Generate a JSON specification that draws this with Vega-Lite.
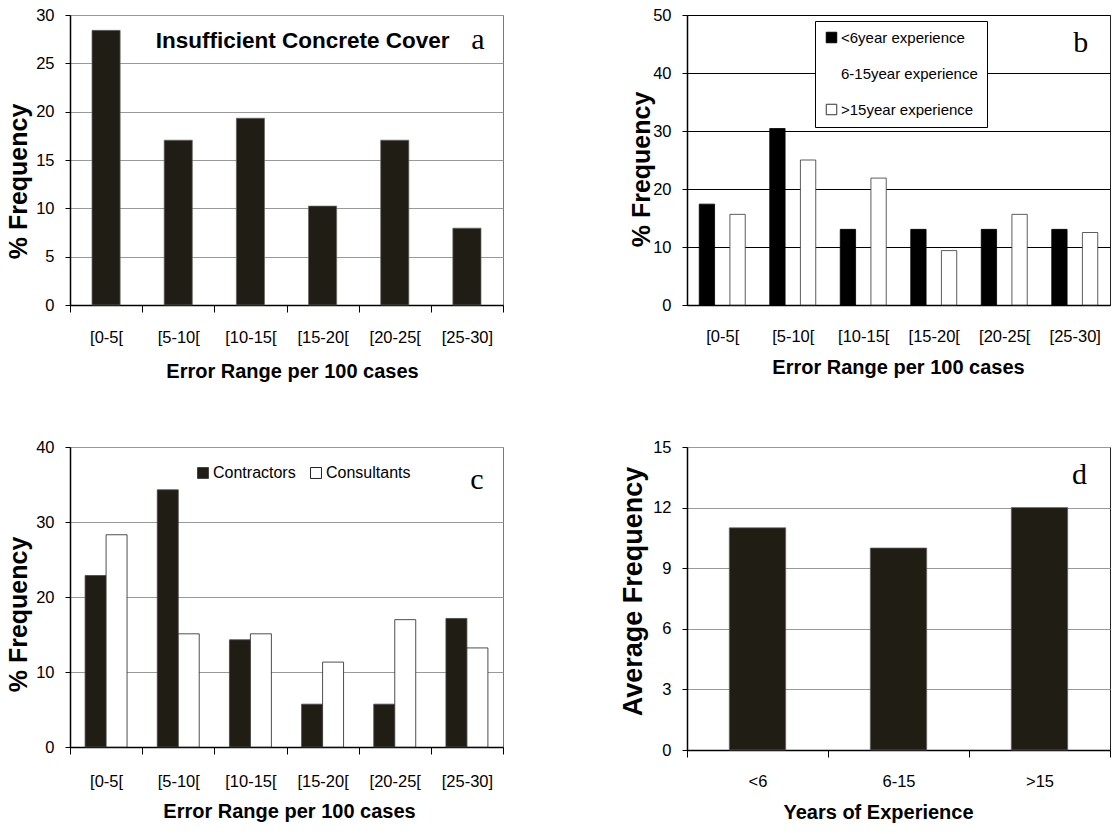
{
  "$schema": "https://vega.github.io/schema/vega-lite/v6.json",
  "padding": {"left": 5, "top": 6, "right": 0, "bottom": 0},
  "background": "white",
  "datasets": {
    "a": [
      {"range": "[0-5[", "pct": 28.41},
      {"range": "[5-10[", "pct": 17.05},
      {"range": "[10-15[", "pct": 19.32},
      {"range": "[15-20[", "pct": 10.23},
      {"range": "[20-25[", "pct": 17.05},
      {"range": "[25-30]", "pct": 7.95}
    ],
    "b": [
      {"range": "[0-5[", "exp": "<6year experience", "pct": 17.39},
      {"range": "[5-10[", "exp": "<6year experience", "pct": 30.43},
      {"range": "[10-15[", "exp": "<6year experience", "pct": 13.04},
      {"range": "[15-20[", "exp": "<6year experience", "pct": 13.04},
      {"range": "[20-25[", "exp": "<6year experience", "pct": 13.04},
      {"range": "[25-30]", "exp": "<6year experience", "pct": 13.04},
      {"range": "[0-5[", "exp": ">15year experience", "pct": 15.63},
      {"range": "[5-10[", "exp": ">15year experience", "pct": 25.0},
      {"range": "[10-15[", "exp": ">15year experience", "pct": 21.88},
      {"range": "[15-20[", "exp": ">15year experience", "pct": 9.38},
      {"range": "[20-25[", "exp": ">15year experience", "pct": 15.63},
      {"range": "[25-30]", "exp": ">15year experience", "pct": 12.5}
    ],
    "c": [
      {"range": "[0-5[", "who": "Contractors", "pct": 22.86},
      {"range": "[5-10[", "who": "Contractors", "pct": 34.29},
      {"range": "[10-15[", "who": "Contractors", "pct": 14.29},
      {"range": "[15-20[", "who": "Contractors", "pct": 5.71},
      {"range": "[20-25[", "who": "Contractors", "pct": 5.71},
      {"range": "[25-30]", "who": "Contractors", "pct": 17.14},
      {"range": "[0-5[", "who": "Consultants", "pct": 28.30},
      {"range": "[5-10[", "who": "Consultants", "pct": 15.09},
      {"range": "[10-15[", "who": "Consultants", "pct": 15.09},
      {"range": "[15-20[", "who": "Consultants", "pct": 11.32},
      {"range": "[20-25[", "who": "Consultants", "pct": 16.98},
      {"range": "[25-30]", "who": "Consultants", "pct": 13.21}
    ],
    "d": [
      {"yrs": "<6", "avg": 11},
      {"yrs": "6-15", "avg": 10},
      {"yrs": ">15", "avg": 12}
    ]
  },
  "columns": 2,
  "spacing": {"row": 142, "column": 184},
  "bounds": "flush",
  "align": "each",
  "resolve": {
    "scale": {"x": "independent", "y": "independent", "xOffset": "independent", "color": "independent", "stroke": "independent"},
    "axis": {"x": "independent", "y": "independent"},
    "legend": {"color": "independent", "stroke": "independent"}
  },
  "concat": [
    {
      "width": 433,
      "height": 290,
      "view": {"stroke": "#777"},
      "layer": [
        {
          "data": {"name": "a"},
          "mark": {"type": "bar", "color": "#201e14", "stroke": "#666", "strokeWidth": 0.7, "width": {"band": 0.39}},
          "encoding": {
            "x": {"field": "range", "type": "nominal", "sort": null,
              "scale": {"paddingInner": 0, "paddingOuter": 0},
              "axis": {"title": "Error Range per 100 cases", "titleX": 222, "titleY": 66}},
            "y": {"field": "pct", "type": "quantitative",
              "scale": {"domain": [0, 30], "nice": false},
              "axis": {"values": [0, 5, 10, 15, 20, 25, 30], "title": "% Frequency", "titleX": -52, "titleY": 166}}
          }
        },
        {
          "data": {"values": [{"note": "Insufficient Concrete Cover"}]},
          "mark": {"type": "text", "font": "Liberation Sans", "fontWeight": "bold", "fontSize": 22.5, "align": "center", "baseline": "middle", "dx": -20, "color": "black"},
          "encoding": {
            "x": {"datum": "[15-20[", "type": "nominal"},
            "y": {"datum": 27.3, "type": "quantitative"},
            "text": {"field": "note"}
          }
        },
        {
          "data": {"values": [{"tag": "a"}]},
          "mark": {"type": "text", "font": "Liberation Serif", "fontSize": 30, "align": "center", "baseline": "alphabetic", "dx": 11, "color": "black"},
          "encoding": {
            "x": {"datum": "[25-30]", "type": "nominal"},
            "y": {"datum": 26.5, "type": "quantitative"},
            "text": {"field": "tag"}
          }
        }
      ]
    },
    {
      "width": 423,
      "height": 290,
      "view": {"stroke": "#222"},
      "layer": [
        {
          "data": {"name": "b"},
          "mark": {"type": "bar", "strokeWidth": 0.8},
          "encoding": {
            "x": {"field": "range", "type": "nominal", "sort": null,
              "scale": {"paddingInner": 0, "paddingOuter": 0},
              "axis": {"title": "Error Range per 100 cases", "titleX": 211, "titleY": 62, "ticks": false, "labelPadding": 31}},
            "xOffset": {"field": "exp", "type": "nominal", "sort": null,
              "scale": {"domain": ["<6year experience", "6-15year experience", ">15year experience"], "paddingInner": 0, "paddingOuter": 0.8}},
            "y": {"field": "pct", "type": "quantitative",
              "scale": {"domain": [0, 50], "nice": false},
              "axis": {"values": [0, 10, 20, 30, 40, 50], "title": "% Frequency", "titleX": -46, "titleY": 154, "gridColor": "#000"}},
            "color": {"field": "exp", "type": "nominal",
              "scale": {"domain": ["<6year experience", "6-15year experience", ">15year experience"], "range": ["black", "white", "white"]},
              "legend": {"orient": "none", "legendX": 128, "legendY": 6, "direction": "vertical", "title": null,
                "fillColor": "white", "strokeColor": "black", "padding": 9, "rowPadding": 20, "labelOffset": 2,
                "symbolType": "square", "symbolSize": 110, "symbolStrokeWidth": 1, "labelFontSize": 15, "labelFont": "Liberation Sans"}},
            "stroke": {"field": "exp", "type": "nominal",
              "scale": {"domain": ["<6year experience", "6-15year experience", ">15year experience"], "range": ["black", "white", "#333"]},
              "legend": {"orient": "none", "legendX": 128, "legendY": 6, "direction": "vertical", "title": null,
                "fillColor": "white", "strokeColor": "black", "padding": 9, "rowPadding": 20, "labelOffset": 2,
                "symbolType": "square", "symbolSize": 110, "symbolStrokeWidth": 1, "labelFontSize": 15, "labelFont": "Liberation Sans"}}
          }
        },
        {
          "data": {"values": [{"tag": "b"}]},
          "mark": {"type": "text", "font": "Liberation Serif", "fontSize": 30, "align": "center", "baseline": "alphabetic", "dx": 6, "color": "black"},
          "encoding": {
            "x": {"datum": "[25-30]", "type": "nominal"},
            "y": {"datum": 43.6, "type": "quantitative"},
            "text": {"field": "tag"}
          }
        }
      ]
    },
    {
      "width": 433,
      "height": 300,
      "view": {"stroke": "#777"},
      "layer": [
        {
          "data": {"name": "c"},
          "mark": {"type": "bar", "strokeWidth": 0.8},
          "encoding": {
            "x": {"field": "range", "type": "nominal", "sort": null,
              "scale": {"paddingInner": 0, "paddingOuter": 0},
              "axis": {"title": "Error Range per 100 cases", "titleX": 219, "titleY": 64, "labelPadding": 27}},
            "xOffset": {"field": "who", "type": "nominal", "sort": null,
              "scale": {"domain": ["Contractors", "Consultants"], "paddingInner": 0, "paddingOuter": 0.72}},
            "y": {"field": "pct", "type": "quantitative",
              "scale": {"domain": [0, 40], "nice": false},
              "axis": {"values": [0, 10, 20, 30, 40], "title": "% Frequency", "titleX": -52, "titleY": 167}},
            "color": {"field": "who", "type": "nominal",
              "scale": {"domain": ["Contractors", "Consultants"], "range": ["#201e14", "white"]},
              "legend": {"orient": "none", "legendX": 125, "legendY": 18, "direction": "horizontal", "title": null,
                "columnPadding": 12, "labelOffset": 2, "symbolType": "square", "symbolSize": 120, "symbolStrokeWidth": 1, "labelFontSize": 16, "labelFont": "Liberation Sans"}},
            "stroke": {"field": "who", "type": "nominal",
              "scale": {"domain": ["Contractors", "Consultants"], "range": ["#444", "#222"]},
              "legend": {"orient": "none", "legendX": 125, "legendY": 18, "direction": "horizontal", "title": null,
                "columnPadding": 12, "labelOffset": 2, "symbolType": "square", "symbolSize": 120, "symbolStrokeWidth": 1, "labelFontSize": 16, "labelFont": "Liberation Sans"}}
          }
        },
        {
          "data": {"values": [{"tag": "c"}]},
          "mark": {"type": "text", "font": "Liberation Serif", "fontSize": 30, "align": "center", "baseline": "alphabetic", "dx": 10, "color": "black"},
          "encoding": {
            "x": {"datum": "[25-30]", "type": "nominal"},
            "y": {"datum": 34.4, "type": "quantitative"},
            "text": {"field": "tag"}
          }
        }
      ]
    },
    {
      "width": 423,
      "height": 303,
      "view": {"stroke": "#222"},
      "layer": [
        {
          "data": {"name": "d"},
          "mark": {"type": "bar", "color": "#201e14", "stroke": "#666", "strokeWidth": 0.7, "width": {"band": 0.4}},
          "encoding": {
            "x": {"field": "yrs", "type": "nominal", "sort": null,
              "scale": {"paddingInner": 0, "paddingOuter": 0},
              "axis": {"title": "Years of Experience", "titleX": 191, "titleY": 62, "labelPadding": 24}},
            "y": {"field": "avg", "type": "quantitative",
              "scale": {"domain": [0, 15], "nice": false},
              "axis": {"values": [0, 3, 6, 9, 12, 15], "title": "Average Frequency", "titleX": -54, "titleY": 144, "titleFontSize": 27}}
          }
        },
        {
          "data": {"values": [{"tag": "d"}]},
          "mark": {"type": "text", "font": "Liberation Serif", "fontSize": 30, "align": "center", "baseline": "alphabetic", "dx": 40, "color": "black"},
          "encoding": {
            "x": {"datum": ">15", "type": "nominal"},
            "y": {"datum": 13.17, "type": "quantitative"},
            "text": {"field": "tag"}
          }
        }
      ]
    }
  ],
  "config": {
    "font": "Liberation Sans",
    "axis": {
      "labelFont": "Liberation Sans",
      "labelFontSize": 16.5,
      "labelColor": "black",
      "domainColor": "black",
      "domainWidth": 1.5,
      "tickColor": "black",
      "gridColor": "#999",
      "gridWidth": 1,
      "titleColor": "black"
    },
    "axisY": {
      "grid": true,
      "tickSize": 5,
      "labelPadding": 11,
      "titleFont": "Liberation Sans",
      "titleFontWeight": "bold",
      "titleFontSize": 25,
      "titleAngle": -90,
      "titleAlign": "center",
      "titleBaseline": "middle"
    },
    "axisX": {
      "grid": false,
      "labelAngle": 0,
      "tickBand": "extent",
      "tickSize": 7,
      "labelPadding": 25,
      "labelBaseline": "middle",
      "titleFont": "Liberation Sans",
      "titleFontWeight": "bold",
      "titleFontSize": 20,
      "titleAlign": "center",
      "titleBaseline": "middle"
    },
    "legend": {"labelColor": "black"}
  }
}
